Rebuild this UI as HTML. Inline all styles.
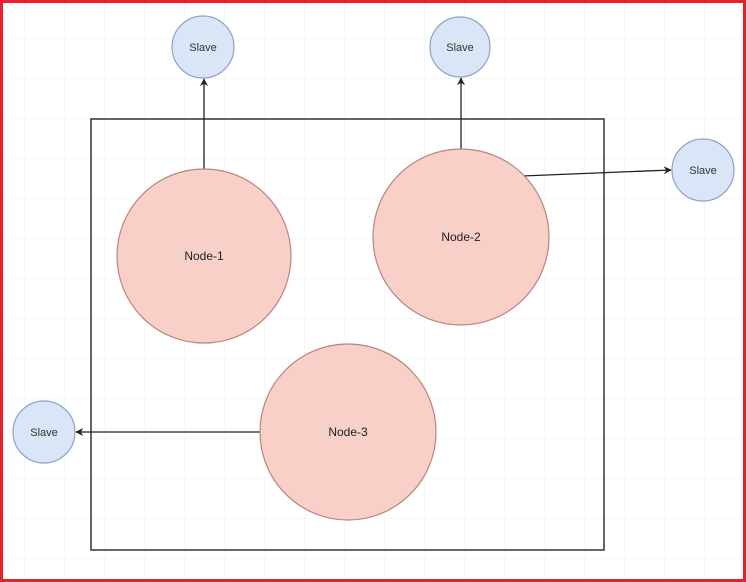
<!DOCTYPE html>
<html><head><meta charset="utf-8"><style>html,body{margin:0;padding:0;background:#fff}svg{display:block}</style></head><body>
<svg width="746" height="582" viewBox="0 0 746 582" xmlns="http://www.w3.org/2000/svg" font-family="Liberation Sans, sans-serif">
<defs>
<pattern id="g" width="40" height="40" patternUnits="userSpaceOnUse" x="24" y="-2">
<path d="M40 0H0V40" fill="none" stroke="#eef0f2" stroke-width="1"/>
</pattern>
<marker id="a" viewBox="0 0 10 10" refX="9" refY="5" markerWidth="8" markerHeight="8" orient="auto" markerUnits="userSpaceOnUse">
<path d="M0 0L10 5L0 10L3 5z" fill="#222"/>
</marker>
</defs>
<rect width="746" height="582" fill="#fff"/>
<rect width="746" height="582" fill="url(#g)"/>
<rect x="1.5" y="1.5" width="743" height="579" fill="none" stroke="#e5222a" stroke-width="3"/>
<rect x="91" y="119" width="513" height="431" fill="none" stroke="#333" stroke-width="1.5"/>
<g stroke="#222" stroke-width="1.3" fill="none">
<line x1="204" y1="169" x2="204" y2="79" marker-end="url(#a)"/>
<line x1="461" y1="149" x2="461" y2="78" marker-end="url(#a)"/>
<line x1="522" y1="176" x2="671" y2="170" marker-end="url(#a)"/>
<line x1="260" y1="432" x2="76" y2="432" marker-end="url(#a)"/>
</g>
<g fill="#f8d0c8" stroke="#b8867f" stroke-width="1.2">
<circle cx="204" cy="256" r="87"/>
<circle cx="461" cy="237" r="88"/>
<circle cx="348" cy="432" r="88"/>
</g>
<g fill="#dae6f7" stroke="#8ca3c4" stroke-width="1.2">
<circle cx="203" cy="47" r="31"/>
<circle cx="460" cy="47" r="30"/>
<circle cx="703" cy="170" r="31"/>
<circle cx="44" cy="432" r="31"/>
</g>
<g font-size="12" fill="#222" text-anchor="middle">
<text x="204" y="260">Node-1</text>
<text x="461" y="241">Node-2</text>
<text x="348" y="436">Node-3</text>
</g>
<g font-size="11" fill="#333" text-anchor="middle">
<text x="203" y="51">Slave</text>
<text x="460" y="51">Slave</text>
<text x="703" y="174">Slave</text>
<text x="44" y="436">Slave</text>
</g>
</svg>
</body></html>
